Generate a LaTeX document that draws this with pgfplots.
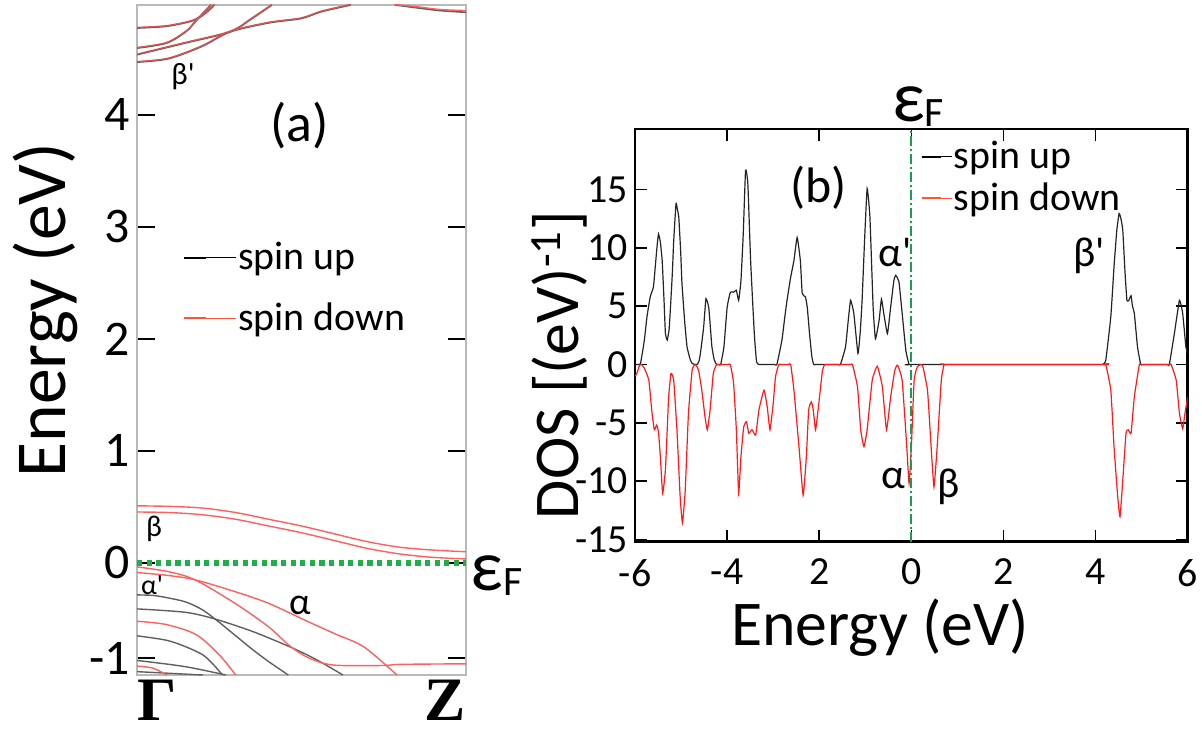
\documentclass[border=0pt]{standalone}
\usepackage{pgfplots}
\pgfplotsset{compat=1.18}
\usepackage{fontspec}
\setmainfont{Carlito}
\newfontfamily\timesb{Liberation Serif}
\definecolor{bandred}{RGB}{255,95,95}
\definecolor{bandgray}{RGB}{95,95,95}
\definecolor{fermigreen}{RGB}{30,175,70}
\definecolor{dosgreen}{RGB}{20,160,80}
\definecolor{legred}{RGB}{255,85,50}
\definecolor{dosred}{RGB}{255,25,25}
\definecolor{dosblack}{RGB}{35,35,35}

\newcommand{\fs}[1]{\fontsize{#1}{#1}\selectfont}

\begin{document}
\begin{tikzpicture}[x=1bp,y=1bp]
\useasboundingbox (0,0) rectangle (601,366);

% ---------- (a) band structure ----------
\begin{axis}[
  at={(68.5bp,28.5bp)}, anchor=south west, scale only axis,
  width=164.5bp, height=335bp,
  xmin=0, xmax=1, ymin=-1.0, ymax=4.98,
  xtick=\empty,
  ytick={-0.85,0,1,2,3,4}, yticklabels={-1,0,1,2,3,4},
  ytick pos=both, tick align=inside,
  major tick length=9bp,
  every tick/.style={black, line width=0.9bp},
  axis line style={gray!55, line width=0.8bp},
  yticklabel style={font=\fs{25}},
  legend style={draw=none, fill=none, at={(rel axis cs:0.12,0.655)}, anchor=north west,
    font=\fs{20}, row sep=13bp, nodes={inner sep=1bp}},
  legend cell align=left,
  legend image code/.code={\draw[#1, line width=1bp] (0bp,0bp) -- (11bp,0bp); \path (0bp,0bp) -- (26bp,0bp);},
]
\addlegendimage{black}\addlegendentry{spin up}
\addlegendimage{legred}\addlegendentry{spin down}

% Fermi level
\addplot[fermigreen, line width=2.6bp, dash pattern=on 2.6bp off 2.2bp, forget plot] coordinates {(0,0) (1,0)};

% spin up (gray) bands below E_F
\addplot[bandgray, line width=0.7bp, smooth, forget plot] coordinates {(0,-0.285) (0.05,-0.29) (0.1,-0.315) (0.15,-0.35) (0.2,-0.42) (0.25,-0.53) (0.3,-0.65) (0.35,-0.77) (0.4,-0.88) (0.46,-1.0)};
\addplot[bandgray, line width=0.7bp, smooth, forget plot] coordinates {(0,-0.41) (0.146,-0.44) (0.237,-0.50) (0.35,-0.61) (0.45,-0.73) (0.51,-0.81) (0.556,-0.88) (0.626,-1.0)};
\addplot[bandgray, line width=0.7bp, smooth, forget plot] coordinates {(0,-0.65) (0.09,-0.69) (0.15,-0.75) (0.2,-0.82) (0.23,-0.9) (0.26,-1.0)};
\addplot[bandgray, line width=0.7bp, smooth, forget plot] coordinates {(0,-0.87) (0.146,-0.925) (0.27,-1.0)};
\addplot[bandgray, line width=0.7bp, smooth, forget plot] coordinates {(0,-0.97) (0.1,-0.985) (0.2,-1.0)};

% spin down (red) bands
\addplot[bandred, line width=0.7bp, smooth, forget plot] coordinates {(0,0.51) (0.1,0.505) (0.2,0.49) (0.3,0.45) (0.4,0.39) (0.5,0.33) (0.6,0.26) (0.7,0.19) (0.8,0.14) (0.9,0.115) (1,0.10)};
\addplot[bandred, line width=0.7bp, smooth, forget plot] coordinates {(0,0.455) (0.1,0.45) (0.2,0.43) (0.3,0.39) (0.4,0.33) (0.5,0.27) (0.6,0.20) (0.7,0.13) (0.8,0.08) (0.9,0.05) (1,0.036)};
\addplot[bandred, line width=0.7bp, smooth, forget plot] coordinates {(0,-0.085) (0.09,-0.11) (0.176,-0.15) (0.298,-0.256) (0.40,-0.36) (0.51,-0.51) (0.60,-0.63) (0.69,-0.75) (0.79,-1.0)};
\addplot[bandred, line width=0.7bp, smooth, forget plot] coordinates {(0,-0.035) (0.095,-0.077) (0.176,-0.15) (0.298,-0.36) (0.40,-0.57) (0.46,-0.73) (0.51,-0.83) (0.566,-0.895) (0.62,-0.915) (0.75,-0.915) (0.8,-0.905) (1,-0.90)};
\addplot[bandred, line width=0.7bp, smooth, forget plot] coordinates {(0,-0.52) (0.09,-0.55) (0.18,-0.64) (0.25,-0.82) (0.30,-1.0)};
\addplot[bandred, line width=0.7bp, smooth, forget plot] coordinates {(0,-0.92) (0.05,-0.94) (0.09,-1.0)};

% bands above 4.4 eV (spin up and spin down nearly coincide)
\addplot[bandgray, line width=0.8bp, smooth, forget plot] coordinates {(0,4.774) (0.09,4.79) (0.17,4.84) (0.21,4.91) (0.235,4.98)};
\addplot[bandgray, line width=0.8bp, smooth, forget plot] coordinates {(0,4.595) (0.09,4.64) (0.15,4.745) (0.18,4.84) (0.225,4.98)};
\addplot[bandgray, line width=0.8bp, smooth, forget plot] coordinates {(0,4.536) (0.146,4.64) (0.283,4.74) (0.35,4.86) (0.41,4.98)};
\addplot[bandgray, line width=0.8bp, smooth, forget plot] coordinates {(0,4.47) (0.095,4.50) (0.197,4.61) (0.283,4.74) (0.40,4.82) (0.5,4.86) (0.56,4.92) (0.65,4.98)};
\addplot[bandgray, line width=0.8bp, smooth, forget plot] coordinates {(0.785,4.98) (0.85,4.955) (0.92,4.93) (1.0,4.915)};
\addplot[bandred!85!black, line width=0.7bp, smooth, forget plot] coordinates {(0,4.78) (0.09,4.795) (0.17,4.845) (0.21,4.915) (0.235,4.985)};
\addplot[bandred!85!black, line width=0.7bp, smooth, forget plot] coordinates {(0,4.60) (0.09,4.645) (0.15,4.75) (0.18,4.845) (0.225,4.985)};
\addplot[bandred!85!black, line width=0.7bp, smooth, forget plot] coordinates {(0,4.541) (0.146,4.645) (0.283,4.745) (0.35,4.865) (0.41,4.985)};
\addplot[bandred!85!black, line width=0.7bp, smooth, forget plot] coordinates {(0,4.475) (0.095,4.505) (0.197,4.615) (0.283,4.745) (0.40,4.825) (0.5,4.865) (0.56,4.925) (0.65,4.985)};
\addplot[bandred, line width=0.7bp, smooth, forget plot] coordinates {(0.78,4.985) (0.85,4.965) (0.92,4.94) (1.0,4.93)};

\node[font=\fs{27}] at (axis cs:0.495,3.90) {(a)};
\node[font=\fs{15.5}] at (axis cs:0.14,4.34) {β\textquotesingle};
\node[font=\fs{15}] at (axis cs:0.052,0.30) {β};
\node[font=\fs{14}] at (axis cs:0.046,-0.20) {α\textquotesingle};
\node[font=\fs{19}] at (axis cs:0.495,-0.375) {α};
\end{axis}

% ---------- (b) DOS ----------
\begin{axis}[
  at={(317.5bp,95.15bp)}, anchor=south west, scale only axis,
  width=276.35bp, height=206.35bp,
  xmin=-6, xmax=6, ymin=-15.2, ymax=20.2,
  xtick={-6,-4,-2,0,2,4,6}, xticklabels={-6,-4,2,0,2,4,6},
  ytick={-15,-10,-5,0,5,10,15}, yticklabels={-15,-10,-5,0,5,10,15},
  tick align=inside, xtick pos=both, ytick pos=both,
  major tick length=6bp,
  every tick/.style={black, line width=0.8bp},
  axis line style={black, line width=1.3bp},
  ticklabel style={font=\fs{20}},
  xticklabel style={inner sep=1bp, yshift=-7.5bp},
  legend style={draw=none, fill=none, at={(rel axis cs:0.505,0.985)}, anchor=north west,
    font=\fs{20}, row sep=3.5bp, nodes={inner sep=1bp}},
  legend cell align=left,
  legend image code/.code={\draw[#1, line width=1bp] (0bp,0bp) -- (9.5bp,0bp); \path (0bp,0bp) -- (15bp,0bp);},
]
\addlegendimage{black}\addlegendentry{spin up}
\addlegendimage{legred}\addlegendentry{spin down}

% spin up
\addplot[dosblack, line width=0.6bp, smooth, tension=0.25, forget plot] coordinates {
(-6.0,0) (-5.92,0) (-5.88,0.1) (-5.80,2.0) (-5.74,4.1) (-5.67,5.8) (-5.60,6.65) (-5.56,8.4) (-5.52,10.2) (-5.49,11.2) (-5.45,10.5) (-5.41,8.9) (-5.37,5.5) (-5.34,2.65) (-5.30,2.1) (-5.26,3.0) (-5.23,4.9) (-5.19,7.8) (-5.16,10.6) (-5.11,13.8) (-5.08,13.3) (-5.05,12.65) (-5.01,9.8) (-4.98,6.9) (-4.92,3.6) (-4.87,1.5) (-4.80,0.4) (-4.76,0.1) (-4.70,0) (-4.65,0) (-4.61,0.3) (-4.58,0.95) (-4.51,3.2) (-4.46,5.65) (-4.40,4.9) (-4.36,3.0) (-4.33,1.5) (-4.28,0.4) (-4.23,0) (-4.18,0) (-4.14,0) (-4.07,1.5) (-4.0,4.9) (-3.93,6.2) (-3.86,6.2) (-3.80,6.37) (-3.75,5.5) (-3.70,7.2) (-3.65,11.2) (-3.60,16.65) (-3.55,15.5) (-3.49,8.9) (-3.41,2.65) (-3.36,0.2) (-3.30,0) (-3.25,0) (-2.97,0) (-2.92,0) (-2.81,2.1) (-2.75,4.0) (-2.70,5.5) (-2.62,7.5) (-2.55,8.9) (-2.48,10.9) (-2.41,8.9) (-2.37,6.1) (-2.30,5.8) (-2.26,4.9) (-2.21,2.6) (-2.16,0.65) (-2.12,0) (-2.07,0) (-1.59,0) (-1.54,0) (-1.43,1.5) (-1.37,3.8) (-1.32,5.5) (-1.25,4.4) (-1.16,0.95) (-1.11,2.8) (-1.07,5.5) (-1.01,11.2) (-0.96,15.1) (-0.90,12.65) (-0.83,4.9) (-0.78,2.2) (-0.70,3.8) (-0.65,5.6) (-0.60,4.4) (-0.52,2.65) (-0.45,4.9) (-0.38,7.2) (-0.34,7.65) (-0.27,7.1) (-0.20,4.4) (-0.12,1.2) (-0.05,0) (0.0,0) (4.10,0) (4.15,0) (4.22,0.35) (4.33,4.1) (4.40,8.4) (4.46,11.5) (4.51,12.95) (4.55,12.5) (4.59,11.5) (4.64,7.8) (4.68,5.5) (4.72,5.5) (4.77,5.9) (4.80,5.0) (4.84,4.4) (4.91,1.5) (4.98,0) (5.03,0) (5.55,0) (5.60,0) (5.71,2.65) (5.82,5.5) (5.89,4.4) (5.96,1.5) (6.0,0.95)};

% spin down
\addplot[dosred, line width=0.6bp, smooth, tension=0.25, forget plot] coordinates {
(-6.0,-1.0) (-5.96,-0.77) (-5.90,-0.05) (-5.86,0) (-5.80,-0.3) (-5.70,-1.35) (-5.63,-4.2) (-5.58,-5.6) (-5.53,-5.2) (-5.49,-5.8) (-5.45,-7.9) (-5.40,-11.05) (-5.34,-9.05) (-5.30,-5.5) (-5.27,-2.8) (-5.22,-0.77) (-5.16,-1.35) (-5.09,-5.6) (-5.02,-11.35) (-4.97,-13.6) (-4.91,-10.8) (-4.84,-4.2) (-4.76,-0.5) (-4.69,0) (-4.62,-0.5) (-4.55,-2.2) (-4.48,-4.5) (-4.43,-5.6) (-4.37,-3.9) (-4.30,-0.77) (-4.23,0) (-4.18,0) (-3.98,0) (-3.93,0) (-3.86,-1.6) (-3.80,-5.6) (-3.75,-11.05) (-3.70,-7.9) (-3.64,-5.35) (-3.58,-4.9) (-3.53,-5.9) (-3.46,-5.6) (-3.38,-6.05) (-3.31,-3.9) (-3.20,-2.2) (-3.13,-3.6) (-3.07,-5.6) (-3.0,-3.35) (-2.95,-1.05) (-2.88,0) (-2.83,0) (-2.67,0) (-2.62,0) (-2.55,-2.2) (-2.44,-7.05) (-2.35,-11.2) (-2.28,-7.9) (-2.23,-3.9) (-2.17,-3.2) (-2.13,-3.9) (-2.08,-5.6) (-2.01,-3.35) (-1.93,-0.5) (-1.88,0) (-1.83,0) (-1.33,0) (-1.28,0) (-1.17,-1.9) (-1.10,-5.6) (-1.03,-7.05) (-0.96,-5.6) (-0.85,-1.35) (-0.74,-0.15) (-0.63,-1.9) (-0.54,-5.6) (-0.45,-2.8) (-0.36,-0.5) (-0.30,-0.05) (-0.20,-1.35) (-0.10,-7.05) (-0.05,-10.2) (0.0,-7.05) (0.06,-1.35) (0.13,-0.2) (0.24,-0.05) (0.35,-2.2) (0.42,-6.5) (0.49,-10.5) (0.56,-7.05) (0.65,-1.35) (0.71,0) (0.76,0) (4.17,0) (4.22,0) (4.33,-2.2) (4.40,-7.05) (4.48,-11.35) (4.53,-13.05) (4.59,-9.9) (4.66,-5.9) (4.71,-5.6) (4.77,-5.9) (4.84,-2.8) (4.95,0) (5.0,0) (5.59,0) (5.64,0) (5.75,-1.35) (5.82,-4.2) (5.89,-5.5) (5.94,-4.2) (6.0,-2.8)};

% Fermi level
\addplot[dosgreen, line width=1bp, dash pattern=on 5bp off 1.5bp on 1bp off 1.5bp, forget plot] coordinates {(0,-15.2) (0,20.2)};

\node[font=\fs{25}] at (axis cs:-2.02,15.2) {(b)};
\node[font=\fs{21}] at (axis cs:-0.36,9.6) {α\textquotesingle};
\node[font=\fs{21}] at (axis cs:3.86,9.3) {β\textquotesingle};
\node[font=\fs{21}] at (axis cs:-0.39,-9.75) {α};
\node[font=\fs{21}] at (axis cs:0.81,-10.5) {β};
\end{axis}

% ---------- labels outside the axes ----------
\node[rotate=90, font=\fs{36}] at (22.5,211) {Energy (eV)};
\node[anchor=base west, inner sep=0] at (235,71) {\fs{36}ε\raisebox{-2.5bp}{\fs{21}F}};
\node[anchor=base west, inner sep=0, font=\timesb\bfseries\fs{31}] at (68.5,6) {Γ};
\node[anchor=base east, inner sep=0, font=\timesb\bfseries\fs{31}] at (233,6) {Z};

\node[rotate=90, font=\fs{32}] at (280,183.5) {DOS [(eV)\textsuperscript{-1}]};
\node[font=\fs{32}, inner sep=0] at (440,52) {Energy (eV)};
\node[inner sep=0] at (459,312.5) {\fs{36}ε\raisebox{-2.5bp}{\fs{21}F}};
\end{tikzpicture}
\end{document}
